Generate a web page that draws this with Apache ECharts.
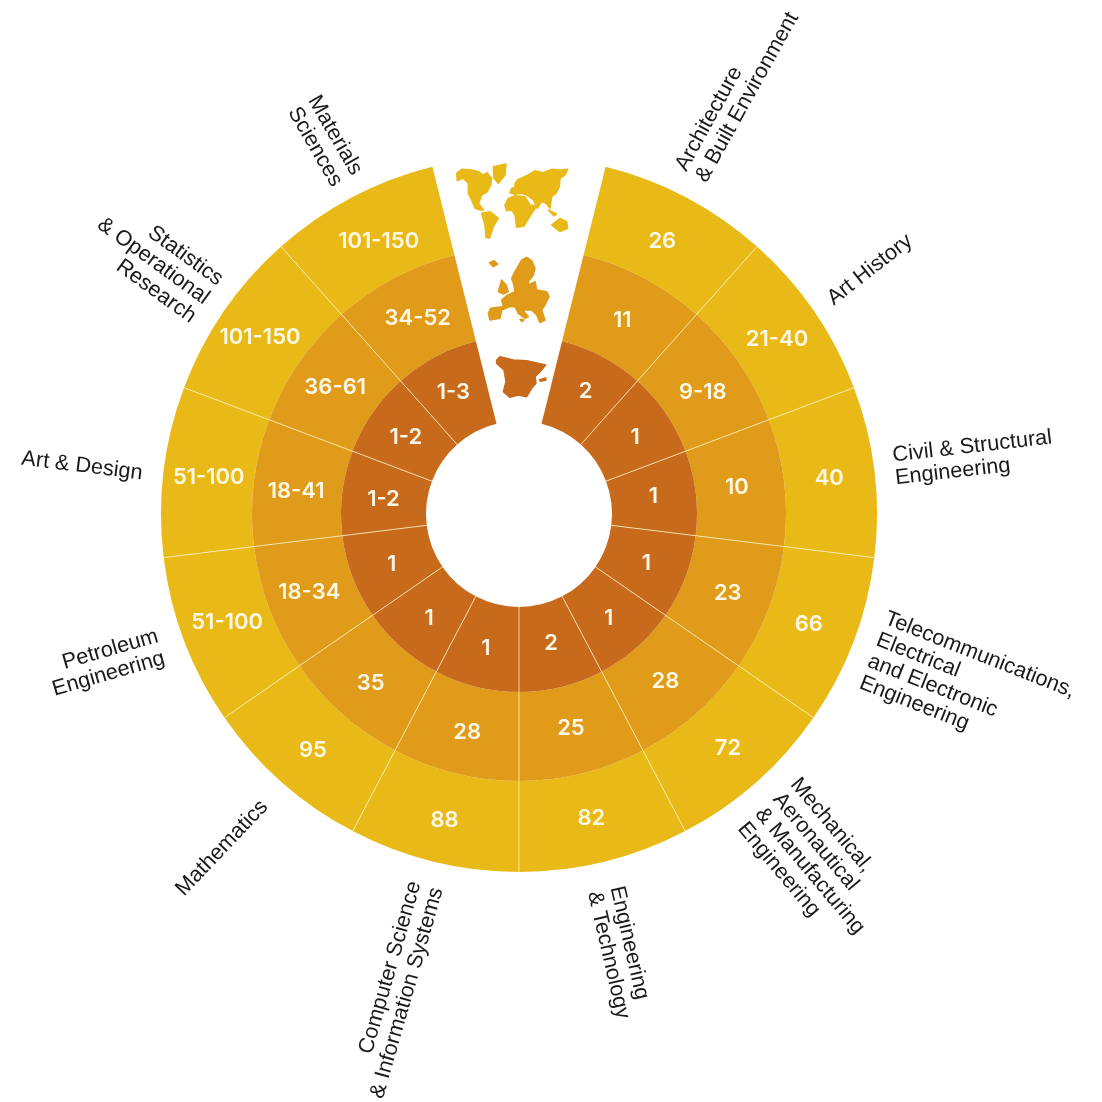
<!DOCTYPE html>
<html>
<head>
<meta charset="utf-8">
<script src="https://cdn.jsdelivr.net/npm/echarts@6/dist/echarts.min.js"></script>
<style>
  html, body { margin: 0; padding: 0; background: #fff; }
  #chart { width: 1102px; height: 1102px; }
</style>
</head>
<body>
<div id="chart"></div>
<script>
// clockwise, starting right of the gap at the top
const subjects = [
  "Architecture\n& Built Environment",
  "Art History",
  "Civil & Structural\nEngineering",
  "Telecommunications,\nElectrical\nand Electronic\nEngineering",
  "Mechanical,\nAeronautical\n& Manufacturing\nEngineering",
  "Engineering\n& Technology",
  "Computer Science\n& Information Systems",
  "Mathematics",
  "Petroleum\nEngineering",
  "Art & Design",
  "Statistics\n& Operational\nResearch",
  "Materials\nSciences",
];
const worldRanks = ["26", "21-40", "40", "66", "72", "82", "88", "95", "51-100", "51-100", "101-150", "101-150"];
const europeRanks = ["11", "9-18", "10", "23", "28", "25", "28", "35", "18-34", "18-41", "36-61", "34-52"];
const spainRanks = ["2", "1", "1", "1", "1", "2", "1", "1", "1", "1-2", "1-2", "1-3"];

const COLORS = { world: "#E9BA17", europe: "#DF9B19", spain: "#C76A1B" };
const CENTER = [519, 514];
const RADII = { hole: 93, spain: 178, europe: 267, world: 358 };
const GAP_HALF = 14; // degrees either side of 12 o'clock

// small hand nudges so the rank labels sit where the picture has them
const worldNudge = [[-4,6],[-2,4],[-3,2],[-5,-2],[0,-2],[-3,-2],[1,0],[3,0],[3,-4],[3,1],[1,2],[7,6]];
const europeNudge = [[-2,6],[-2,6],[-6,0],[-2,-1],[-3,-1],[-2,-5],[2,-1],[1,1],[1,-2],[1,4],[2,1],[4,4]];
const spainNudge = [[2,0],[2,2],[-3,-1],[-2,0],[-2,1],[-1,-5],[0,0],[2,1],[2,1],[2,2],[1,2],[-1,1]];

// subject labels: x, y, rotation in degrees (clockwise), align
const subjectLabelPos = [
  [691, 175, -61, "left"],
  [830, 301, -38, "left"],
  [894, 467, -6.5, "left"],
  [873, 650, 21.5, "left"],
  [768, 803, 50, "left"],
  [605, 889, 77, "left"],
  [426, 885, -74, "right"],
  [222, 848, -46.5, "center"],
  [161, 647, -16, "right"],
  [82, 466, 7, "center"],
  [207, 300, 36, "right"],
  [303, 103, 60, "left"],
];

const worldShapes = [
  [[170,70],[185,58],[215,60],[235,65],[250,75],[262,68],[275,85],[272,105],[262,125],[245,135],[236,160],[250,180],[240,180],[225,175],[215,150],[205,130],[205,100],[190,85],[172,92]],
  [[280,50],[318,42],[315,75],[295,100],[282,85]],
  [[245,190],[270,185],[295,205],[280,230],[268,265],[258,262],[255,225]],
  [[345,100],[355,88],[385,75],[405,62],[430,68],[455,58],[480,60],[503,58],[495,75],[480,85],[478,110],[468,130],[455,140],[450,175],[438,160],[425,155],[412,175],[400,150],[380,135],[365,130],[345,133],[330,128],[335,115],[345,112]],
  [[315,165],[325,145],[345,137],[375,140],[390,165],[410,168],[392,195],[380,215],[372,228],[350,232],[345,195],[335,180],[320,182]],
  [[455,225],[480,205],[500,215],[503,235],[480,245]],
  [[445,180],[470,192],[462,198]],
];
const europeShapes = [
  [[268,338],[282,332],[293,342],[280,350]],
  [[265,490],[272,475],[295,472],[310,470],[305,450],[320,437],[345,425],[340,400],[335,385],[345,365],[365,330],[380,322],[395,332],[405,355],[400,375],[385,395],[385,405],[405,395],[410,420],[440,425],[447,440],[435,465],[425,480],[435,510],[420,518],[410,495],[395,480],[370,480],[360,470],[385,500],[375,505],[355,490],[345,470],[330,470],[305,480],[300,505],[270,510]],
  [[295,425],[305,390],[318,405],[325,425],[310,432]],
  [[360,508],[372,510],[365,515]],
];
const spainShapes = [
  [[290,630],[300,620],[340,630],[380,632],[437,645],[420,665],[405,680],[408,700],[395,715],[380,740],[355,735],[330,742],[310,725],[318,695],[312,660],[290,640]],
  [[418,690],[437,684],[438,690],[422,694]],
];

function mapPolygons(shapes, fill) {
  return shapes.map((pts) => ({
    type: "polygon",
    silent: true,
    shape: { points: pts.map((p) => [400 + p[0] / 3, 150 + p[1] / 3]) },
    style: { fill: fill, stroke: fill, lineWidth: 1.5, lineJoin: "round" },
  }));
}

function ring(ranks, nudge, inner, outer, color) {
  return {
    type: "pie",
    center: CENTER,
    radius: [inner, outer],
    startAngle: 90 - GAP_HALF,
    endAngle: 90 - GAP_HALF - (360 - 2 * GAP_HALF),
    clockwise: true,
    animation: false,
    silent: true,
    labelLine: { show: false },
    itemStyle: { color: color },
    label: {
      position: "inside",
      color: "#FFF8E6",
      fontFamily: "Inter",
      fontWeight: 600,
      fontSize: 22,
      formatter: (p) => p.data.rank,
    },
    labelLayout: (params) => ({
      dx: nudge[params.dataIndex][0],
      dy: nudge[params.dataIndex][1],
    }),
    data: subjects.map((s, i) => ({ name: s, value: 1, rank: ranks[i] })),
  };
}

const step = (360 - 2 * GAP_HALF) / subjects.length;
const dividerAngles = subjects.slice(1).map((s, i) => [GAP_HALF + (i + 1) * step]);

const option = {
  backgroundColor: "#fff",
  polar: { center: CENTER, radius: RADII.world },
  angleAxis: { type: "value", min: 0, max: 360, startAngle: 90, show: false },
  radiusAxis: { type: "value", min: 0, max: RADII.world, show: false },
  series: [
    ring(worldRanks, worldNudge, RADII.europe, RADII.world, COLORS.world),
    ring(europeRanks, europeNudge, RADII.spain, RADII.europe, COLORS.europe),
    ring(spainRanks, spainNudge, RADII.hole, RADII.spain, COLORS.spain),
    {
      type: "custom",
      coordinateSystem: "polar",
      animation: false,
      silent: true,
      z: 5,
      data: dividerAngles,
      renderItem: (params, api) => {
        const a = api.value(0);
        const p0 = api.coord([RADII.hole, a]);
        const p1 = api.coord([RADII.world, a]);
        return {
          type: "line",
          shape: { x1: p0[0], y1: p0[1], x2: p1[0], y2: p1[1] },
          style: { stroke: "rgba(255,240,190,0.8)", lineWidth: 1 },
        };
      },
    },
  ],
  graphic: {
    elements: [
      ...mapPolygons(worldShapes, COLORS.world),
      ...mapPolygons(europeShapes, COLORS.europe),
      ...mapPolygons(spainShapes, COLORS.spain),
      ...subjects.map((s, i) => {
        const pos = subjectLabelPos[i];
        return {
          type: "text",
          silent: true,
          x: pos[0],
          y: pos[1],
          rotation: (-pos[2] * Math.PI) / 180,
          style: {
            text: s,
            font: '21.7px "Liberation Sans"',
            fill: "#1a1a1a",
            align: pos[3],
            verticalAlign: "middle",
            lineHeight: 23,
          },
        };
      }),
    ],
  },
};

const chart = echarts.init(document.getElementById("chart"));
chart.setOption(option);
</script>
</body>
</html>
